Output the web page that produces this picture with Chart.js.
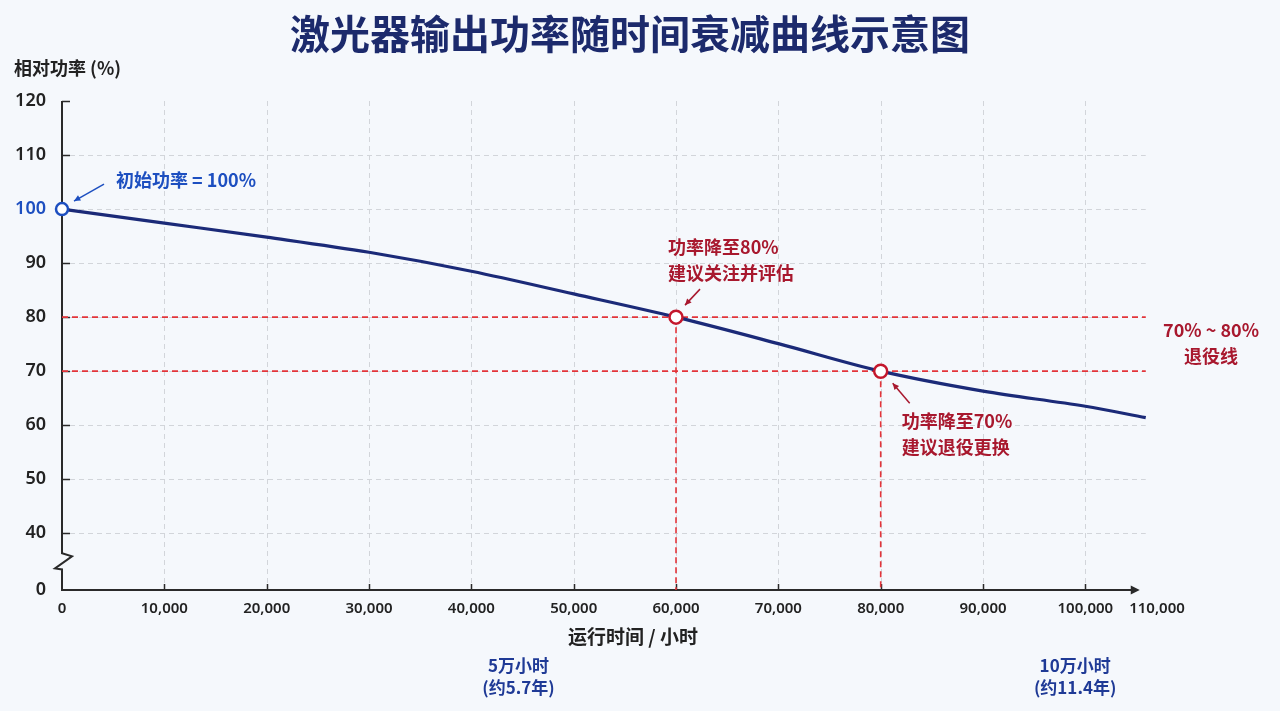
<!DOCTYPE html>
<html><head><meta charset="utf-8">
<script src="https://cdn.jsdelivr.net/npm/chart.js@4.4.1/dist/chart.umd.min.js"></script>
<style>html,body{margin:0;padding:0;background:#f5f8fc;overflow:hidden}#wrap{width:1280px;height:711px}</style>
</head><body><div id="wrap"><canvas id="c" width="1280" height="711"></canvas></div>
<script>
// ---- data ----
const chartTitle = '激光器输出功率随时间衰减曲线示意图';
const yAxisTitle = '相对功率 (%)';
const xAxisTitle = '运行时间 / 小时';
const hours = [0, 10000, 20000, 30000, 40000, 50000, 60000, 70000, 80000, 90000, 100000, 105900];
const powerPct = [100, 97.4, 94.8, 92.0, 88.5, 84.3, 80, 75.1, 70, 66.3, 63.5, 61.4];
const startHours = [0];
const startPct = [100];
const markerHours = [60000, 80000];
const markerPct = [80, 70];
const thresholdPct = [80, 70];
const xTickValues = [0, 10000, 20000, 30000, 40000, 50000, 60000, 70000, 80000, 90000, 100000, 107000];
const xTickLabels = ['0', '10,000', '20,000', '30,000', '40,000', '50,000', '60,000', '70,000', '80,000', '90,000', '100,000', '110,000'];
const yTickValues = [29.5, 40, 50, 60, 70, 80, 90, 100, 110, 120];
const yTickLabels = ['0', '40', '50', '60', '70', '80', '90', '100', '110', '120'];
const startNote = ['初始功率 = 100%'];
const markerNotes = [['功率降至80%', '建议关注并评估'], ['功率降至70%', '建议退役更换']];
const bandNote = ['70% ~ 80%', '退役线'];
const milestoneHours = [44600, 99000];
const milestoneNotes = [['5万小时', '(约5.7年)'], ['10万小时', '(约11.4年)']];

// ---- styles ----
const BG = '#f5f8fc';
const NAVY = '#1b2a78';
const BLUE = '#1d4fc0';
const RED = '#e3343a';
const DARKRED = '#a8182e';
const INK = '#222222';
const FONT = "'Noto Sans','Noto Sans CJK SC',sans-serif";
const CJK = "'Noto Sans CJK SC','Noto Sans',sans-serif";

const xy = (xs, ys) => xs.map((v, i) => ({x: v, y: ys[i]}));
const curveData = xy(hours, powerPct);
const lastHour = hours[hours.length - 1];
const yMin = yTickValues[0];
const yMax = yTickValues[yTickValues.length - 1];

const datasets = [
  {label: 'start', data: xy(startHours, startPct), showLine: false, pointRadius: 6, pointHoverRadius: 6,
   pointBorderWidth: 2.5, pointBorderColor: BLUE, pointBackgroundColor: '#ffffff', order: 0, clip: false},
  {label: 'markers', data: xy(markerHours, markerPct), showLine: false, pointRadius: 6.5, pointHoverRadius: 6.5,
   pointBorderWidth: 2.5, pointBorderColor: '#c4172c', pointBackgroundColor: '#ffffff', order: 0, clip: false},
  {label: 'curve', data: curveData, borderColor: NAVY, borderWidth: 3.2, pointRadius: 0, tension: 0.4,
   cubicInterpolationMode: 'monotone', fill: false, order: 1, clip: false}
];
thresholdPct.forEach((p) => {
  datasets.push({label: 'th' + p, data: [{x: 0, y: p}, {x: lastHour, y: p}], borderColor: RED, borderWidth: 1.6,
    borderDash: [6, 4], pointRadius: 0, fill: false, order: 2, clip: false});
});
markerHours.forEach((h, i) => {
  datasets.push({label: 'v' + h, data: [{x: h, y: markerPct[i]}, {x: h, y: yMin}], borderColor: RED, borderWidth: 1.6,
    borderDash: [6, 4], pointRadius: 0, fill: false, order: 2, clip: false});
});

function arrow(ctx, x1, y1, x2, y2, color) {
  ctx.save();
  ctx.strokeStyle = color; ctx.fillStyle = color; ctx.lineWidth = 1.5;
  ctx.beginPath(); ctx.moveTo(x1, y1); ctx.lineTo(x2, y2); ctx.stroke();
  const ang = Math.atan2(y2 - y1, x2 - x1), L = 7, W = 0.45;
  ctx.beginPath();
  ctx.moveTo(x2, y2);
  ctx.lineTo(x2 - L * Math.cos(ang - W), y2 - L * Math.sin(ang - W));
  ctx.lineTo(x2 - L * Math.cos(ang + W), y2 - L * Math.sin(ang + W));
  ctx.closePath(); ctx.fill();
  ctx.restore();
}

const decor = {
  id: 'decor',
  beforeDraw(chart) {
    const ctx = chart.ctx;
    ctx.save(); ctx.fillStyle = BG; ctx.fillRect(0, 0, chart.width, chart.height); ctx.restore();
  },
  beforeDatasetsDraw(chart) {
    const {ctx, chartArea: a, scales: {x, y}} = chart;
    const xEnd = x.getPixelForValue(lastHour);
    ctx.save();
    // grid
    ctx.strokeStyle = '#d2d5da'; ctx.lineWidth = 1; ctx.setLineDash([5, 4]);
    yTickValues.forEach((v) => {
      if (v <= yMin || v >= yMax) return;
      const py = Math.round(y.getPixelForValue(v)) + 0.5;
      ctx.beginPath(); ctx.moveTo(a.left + 8, py); ctx.lineTo(xEnd, py); ctx.stroke();
    });
    xTickValues.forEach((v) => {
      if (v <= 0 || v > 100000) return;
      const px = Math.round(x.getPixelForValue(v)) + 0.5;
      ctx.beginPath(); ctx.moveTo(px, a.top); ctx.lineTo(px, a.bottom - 6); ctx.stroke();
    });
    ctx.setLineDash([]);
    // axes
    ctx.strokeStyle = '#2a2a2a'; ctx.lineWidth = 2; ctx.lineJoin = 'miter';
    const L = a.left, B = a.bottom;
    const b1 = y.getPixelForValue(36.3), b2 = y.getPixelForValue(33.3);
    ctx.beginPath();
    ctx.moveTo(L, a.top); ctx.lineTo(L, b1);
    ctx.lineTo(L + 10, b1 + 3);
    ctx.lineTo(L - 7, b2 - 1);
    ctx.lineTo(L, b2); ctx.lineTo(L, B);
    ctx.lineTo(xEnd - 10, B);
    ctx.stroke();
    ctx.fillStyle = '#2a2a2a';
    ctx.beginPath(); ctx.moveTo(xEnd - 6, B); ctx.lineTo(xEnd - 15, B - 4.5); ctx.lineTo(xEnd - 15, B + 4.5); ctx.closePath(); ctx.fill();
    // tick marks (inside)
    ctx.lineWidth = 1.5;
    yTickValues.forEach((v) => {
      if (v <= yMin) return;
      const py = Math.round(y.getPixelForValue(v)) + 0.5;
      ctx.beginPath(); ctx.moveTo(L, py); ctx.lineTo(L + 8, py); ctx.stroke();
    });
    xTickValues.forEach((v) => {
      if (v <= 0 || v > 100000) return;
      const px = Math.round(x.getPixelForValue(v)) + 0.5;
      ctx.beginPath(); ctx.moveTo(px, B); ctx.lineTo(px, B - 6); ctx.stroke();
    });
    ctx.restore();
  },
  afterDraw(chart) {
    const {ctx, chartArea: a, scales: {x, y}} = chart;
    ctx.save();
    ctx.textBaseline = 'middle';
    // title
    ctx.fillStyle = '#1c2a6c'; ctx.textAlign = 'center';
    ctx.font = `700 40px ${CJK}`;
    ctx.fillText(chartTitle, 630, 34);
    // y title
    ctx.fillStyle = INK; ctx.textAlign = 'left';
    ctx.font = `700 18px ${CJK}`;
    ctx.fillText(yAxisTitle, 14, 68);
    // x title
    ctx.textAlign = 'center'; ctx.font = `700 19px ${CJK}`;
    ctx.fillText(xAxisTitle, 633, 637);
    // milestones
    ctx.fillStyle = '#1f3a96'; ctx.font = `700 17px ${CJK}`;
    milestoneHours.forEach((h, i) => {
      const px = x.getPixelForValue(h);
      ctx.fillText(milestoneNotes[i][0], px, 666);
      ctx.fillText(milestoneNotes[i][1], px, 688);
    });
    // start note
    const sx = x.getPixelForValue(startHours[0]), sy = y.getPixelForValue(startPct[0]);
    ctx.textAlign = 'left'; ctx.fillStyle = BLUE; ctx.font = `600 18px ${CJK}`;
    ctx.fillText(startNote[0], sx + 54, sy - 29);
    arrow(ctx, sx + 42, sy - 25, sx + 12, sy - 8, BLUE);
    // marker notes
    ctx.fillStyle = DARKRED; ctx.font = `600 18px ${CJK}`;
    const m1x = x.getPixelForValue(markerHours[0]), m1y = y.getPixelForValue(markerPct[0]);
    ctx.fillText(markerNotes[0][0], m1x - 8, m1y - 70);
    ctx.fillText(markerNotes[0][1], m1x - 8, m1y - 44);
    arrow(ctx, m1x + 24, m1y - 28, m1x + 9, m1y - 12, DARKRED);
    const m2x = x.getPixelForValue(markerHours[1]), m2y = y.getPixelForValue(markerPct[1]);
    ctx.fillText(markerNotes[1][0], m2x + 21, m2y + 50);
    ctx.fillText(markerNotes[1][1], m2x + 21, m2y + 76);
    arrow(ctx, m2x + 29, m2y + 32, m2x + 12, m2y + 12, DARKRED);
    // band note
    const mid = (y.getPixelForValue(thresholdPct[0]) + y.getPixelForValue(thresholdPct[1])) / 2;
    ctx.textAlign = 'center'; ctx.font = `700 18px ${CJK}`;
    ctx.fillText(bandNote[0], a.right + 54, mid - 14);
    ctx.fillText(bandNote[1], a.right + 54, mid + 12);
    ctx.restore();
  }
};

new Chart(document.getElementById('c'), {
  type: 'line',
  data: {datasets},
  options: {
    responsive: false,
    animation: false,
    devicePixelRatio: 1,
    events: [],
    layout: {padding: {left: 0, right: 123, top: 101, bottom: 0}},
    plugins: {legend: {display: false}, tooltip: {enabled: false}, title: {display: false}},
    scales: {
      x: {
        type: 'linear', min: 0, max: xTickValues[xTickValues.length - 1],
        grid: {display: false, drawTicks: false}, border: {display: false},
        afterBuildTicks: (s) => { s.ticks = xTickValues.map((v) => ({value: v})); },
        afterFit: (s) => { s.height = 121; },
        ticks: {autoSkip: false, maxRotation: 0, padding: 10, color: INK,
          font: {family: FONT, size: 15, weight: '600'},
          callback: (v, i) => xTickLabels[i]}
      },
      y: {
        type: 'linear', min: yMin, max: yMax,
        grid: {display: false, drawTicks: false}, border: {display: false},
        afterBuildTicks: (s) => { s.ticks = yTickValues.map((v) => ({value: v})); },
        afterFit: (s) => { s.width = 62; },
        ticks: {autoSkip: false, padding: 16,
          color: (c) => (c.tick && c.tick.value === 100 ? BLUE : INK),
          font: {family: FONT, size: 18, weight: '600'},
          callback: (v, i) => yTickLabels[i]}
      }
    }
  },
  plugins: [decor]
});
</script></body></html>
